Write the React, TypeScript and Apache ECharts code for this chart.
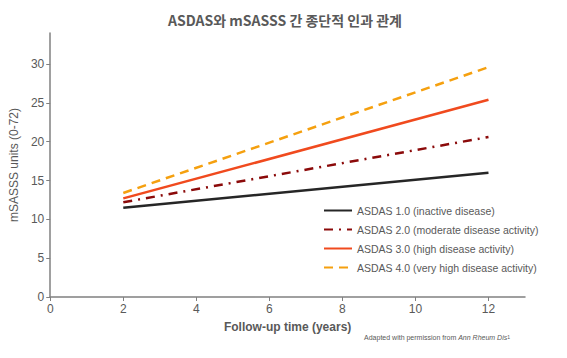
import React, { useEffect, useRef } from "react";
import * as echarts from "echarts";

const title = "ASDAS와 mSASSS 간 종단적 인과 관계";
const xName = "Follow-up time (years)";
const yName = "mSASSS units (0-72)";
const xTicks = [0, 2, 4, 6, 8, 10, 12];
const yTicks = [0, 5, 10, 15, 20, 25, 30];
const years = [2, 12];
const seriesNames = [
  "ASDAS 1.0 (inactive disease)",
  "ASDAS 2.0 (moderate disease activity)",
  "ASDAS 3.0 (high disease activity)",
  "ASDAS 4.0 (very high disease activity)",
];
const asdas1 = [11.5, 16.0];
const asdas2 = [12.2, 20.6];
const asdas3 = [12.7, 25.4];
const asdas4 = [13.4, 29.6];

export default function App() {
  const ref = useRef<HTMLDivElement>(null);
  useEffect(() => {
    if (!ref.current) return;
    const chart = echarts.init(ref.current, undefined, { renderer: "svg" });
    const values = [asdas1, asdas2, asdas3, asdas4];
    const colors = ["#262626", "#8B0A0A", "#F04A1E", "#F5A00F"];
    const dashes: any[] = ["solid", [9, 6, 2, 6], "solid", [9, 6]];
    chart.setOption({
      animation: false,
      backgroundColor: "#ffffff",
      title: {
        text: title,
        left: 280,
        textAlign: "center",
        top: 8,
        textStyle: {
          fontFamily: "Noto Sans CJK KR",
          fontSize: 14,
          fontWeight: "bold",
          color: "#595959",
        },
      },
      grid: { left: 50, right: 42, top: 33, bottom: 61 },
      xAxis: {
        type: "value",
        min: 0,
        max: 13,
        name: xName,
        nameLocation: "middle",
        nameGap: 24,
        nameTextStyle: {
          fontFamily: "Liberation Sans",
          fontSize: 12,
          fontWeight: "bold",
          color: "#595959",
        },
        splitLine: { show: false },
        axisLine: { lineStyle: { color: "#808080", width: 1.5 } },
        axisTick: { customValues: xTicks, length: 4, lineStyle: { color: "#808080" } },
        axisLabel: {
          customValues: xTicks,
          fontFamily: "Liberation Sans",
          fontSize: 12,
          color: "#595959",
          margin: 6,
        },
      },
      yAxis: {
        type: "value",
        min: 0,
        max: 34,
        name: yName,
        nameLocation: "middle",
        nameGap: 30,
        nameTextStyle: {
          fontFamily: "Liberation Sans",
          fontSize: 12,
          fontWeight: "normal",
          color: "#595959",
        },
        splitLine: { show: false },
        axisLine: { show: true, lineStyle: { color: "#808080", width: 1.5 } },
        axisTick: { show: true, customValues: yTicks, length: 4, lineStyle: { color: "#808080" } },
        axisLabel: {
          customValues: yTicks,
          fontFamily: "Liberation Sans",
          fontSize: 12,
          color: "#595959",
          margin: 6,
        },
      },
      legend: {
        orient: "vertical",
        left: 318,
        top: 200,
        itemWidth: 28,
        itemHeight: 10,
        itemGap: 8,
        itemStyle: { opacity: 0 },
        textStyle: {
          fontFamily: "Liberation Sans",
          fontSize: 10.5,
          color: "#595959",
        },
        data: seriesNames.map((n) => ({ name: n })),
      },
      series: seriesNames.map((n, i) => ({
        name: n,
        type: "line",
        showSymbol: false,
        symbol: "none",
        data: years.map((y, j) => [y, values[i][j]]),
        lineStyle: { color: colors[i], width: 2.5, type: dashes[i] },
        itemStyle: { color: colors[i] },
      })),
      graphic: [
        {
          type: "text",
          right: 57,
          top: 334,
          style: {
            text: "Adapted with permission from {i|Ann Rheum Dis}{s|1}",
            fontFamily: "Liberation Sans",
            fontSize: 7,
            fill: "#595959",
            rich: {
              i: { fontStyle: "italic", fontSize: 7, fontFamily: "Liberation Sans", fill: "#595959" },
              s: { fontSize: 5, verticalAlign: "top", fontFamily: "Liberation Sans", fill: "#595959" },
            },
          },
        },
      ],
    });
    return () => chart.dispose();
  }, []);
  return (
    <div
      ref={ref}
      style={{ position: "fixed", left: 0, top: 0, width: 567, height: 358, background: "#fff" }}
    />
  );
}
